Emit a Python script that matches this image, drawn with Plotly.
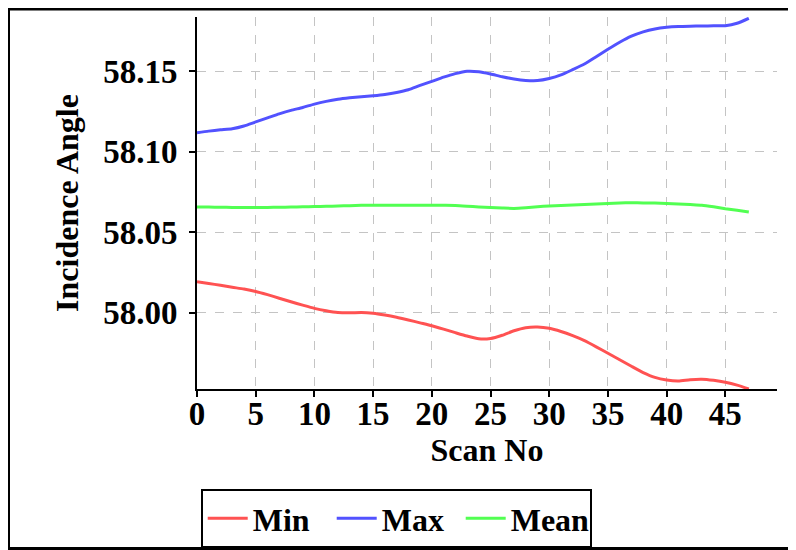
import plotly.graph_objects as go

scan_no = list(range(48))

min_vals = [58.0193, 58.0182, 58.0170, 58.0158, 58.0147, 58.0132, 58.0112, 58.0090,
            58.0068, 58.0047, 58.0027, 58.0012, 58.0001, 57.9999, 58.0002, 57.9997,
            57.9986, 57.9972, 57.9955, 57.9937, 57.9919, 57.9898, 57.9876, 57.9855,
            57.9838, 57.9840, 57.9860, 57.9888, 57.9907, 57.9911, 57.9903, 57.9883,
            57.9857, 57.9826, 57.9788, 57.9748, 57.9708, 57.9667, 57.9628, 57.9598,
            57.9582, 57.9576, 57.9584, 57.9587, 57.9580, 57.9568, 57.9550, 57.9526]

max_vals = [58.1118, 58.1128, 58.1136, 58.1143, 58.1160, 58.1185, 58.1210, 58.1235,
            58.1257, 58.1275, 58.1296, 58.1313, 58.1326, 58.1335, 58.1342, 58.1348,
            58.1356, 58.1368, 58.1385, 58.1412, 58.1437, 58.1463, 58.1485, 58.1500,
            58.1497, 58.1483, 58.1466, 58.1452, 58.1443, 58.1442, 58.1455, 58.1477,
            58.1510, 58.1545, 58.1590, 58.1636, 58.1680, 58.1718, 58.1745, 58.1763,
            58.1773, 58.1778, 58.1780, 58.1781, 58.1782, 58.1783, 58.1798, 58.1829]

mean_vals = [58.0657, 58.0656, 58.0655, 58.0654, 58.0653, 58.0653, 58.0654, 58.0655,
             58.0656, 58.0658, 58.0659, 58.0661, 58.0663, 58.0665, 58.0667, 58.0668,
             58.0668, 58.0668, 58.0668, 58.0668, 58.0668, 58.0667, 58.0666, 58.0662,
             58.0657, 58.0653, 58.0650, 58.0648, 58.0652, 58.0658, 58.0663, 58.0666,
             58.0669, 58.0672, 58.0676, 58.0679, 58.0682, 58.0683, 58.0682, 58.0681,
             58.0679, 58.0676, 58.0672, 58.0668, 58.0658, 58.0646, 58.0636, 58.0626]

x_ticks = [0, 5, 10, 15, 20, 25, 30, 35, 40, 45]
y_ticks = [58.00, 58.05, 58.10, 58.15]

FONT = "Liberation Serif"

fig = go.Figure()
for name, vals, color in [("Min", min_vals, "#ff5252"),
                          ("Max", max_vals, "#5252ff"),
                          ("Mean", mean_vals, "#52ff52")]:
    fig.add_trace(go.Scatter(x=scan_no, y=vals, name=name, mode="lines",
                             line=dict(color=color, width=3, shape="spline", smoothing=0.6)))

axis_common = dict(
    showline=True, linecolor="black", linewidth=2,
    ticks="outside", ticklen=6, tickwidth=2, tickcolor="black",
    showgrid=True, gridcolor="#c4c4c4", griddash="dash", gridwidth=1,
    zeroline=False, mirror=False,
    tickfont=dict(family=FONT, size=33, color="black", weight="bold"),
)

fig.update_xaxes(range=[0, 49.4], tickvals=x_ticks, ticklabelstandoff=-12,
                 title=dict(text="<b>Scan No</b>", font=dict(family=FONT, size=32, color="black"), standoff=6),
                 **axis_common)
fig.update_yaxes(range=[57.9526, 58.1837], tickvals=y_ticks, tickformat=".2f", ticklabelstandoff=5,
                 title=dict(text="<b>Incidence Angle</b>", font=dict(family=FONT, size=32, color="black"), standoff=15),
                 **axis_common)

L, T = 189, 9
PW, PH = 580, 372

fig.update_layout(
    width=796, height=550,
    margin=dict(l=L, r=796 - L - PW, t=T, b=550 - T - PH, autoexpand=False),
    paper_bgcolor="white", plot_bgcolor="white",
    font=dict(family=FONT, color="black"),
    showlegend=True,
    legend=dict(orientation="h", x=0.0064, y=-0.2688, xanchor="left", yanchor="top",
                bordercolor="black", borderwidth=2, bgcolor="white",
                font=dict(family=FONT, size=32, color="black", weight="bold"),
                itemwidth=40, entrywidth=74, entrywidthmode="pixels"),
    shapes=[dict(type="rect", xref="paper", yref="paper",
                 x0=(0.5 - L) / PW, x1=(820 - L) / PW,
                 y0=(T + PH - 540.5) / PH, y1=(T + PH - 1) / PH,
                 line=dict(color="black", width=3), fillcolor="rgba(0,0,0,0)", layer="below")],
)

fig.write_html("out.html")
